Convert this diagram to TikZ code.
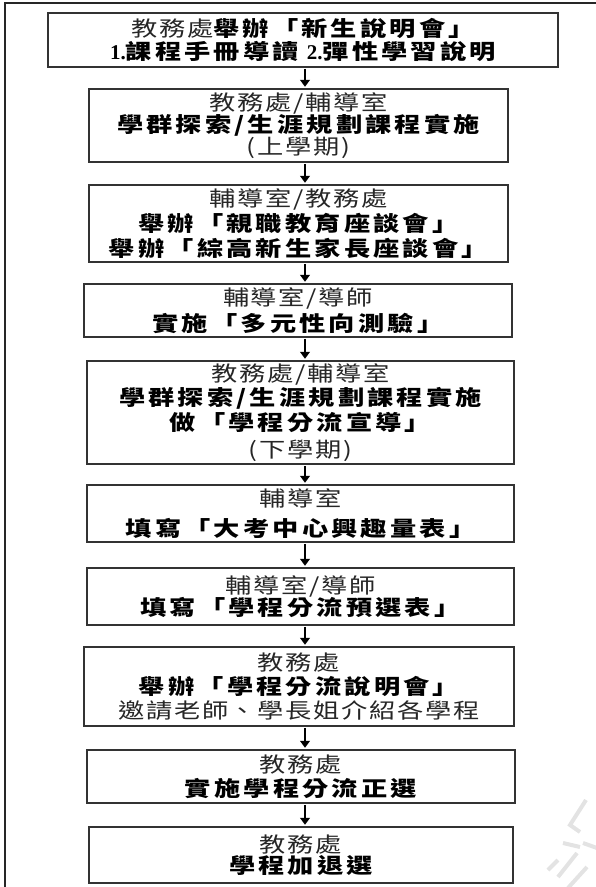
\documentclass[tikz,border=0pt]{standalone}
\usepackage{fontspec}
\usepackage{tikz}
\usetikzlibrary{arrows.meta}
\newfontfamily\cjk[FakeStretch=1.25,LetterSpace=8,BoldFeatures={LetterSpace=15}]{Noto Sans CJK TC}
\newfontfamily\numfont{Liberation Serif}
\newcommand{\who}[1]{{\color{black!85}#1}}
\newcommand{\what}[1]{{\bfseries #1}}

\begin{document}
\begin{tikzpicture}[x=1pt,y=-1pt,
  stepbox/.style={draw=black!80, line width=1.5pt, align=center, inner sep=0pt,
    font=\cjk\fontsize{21}{24}\selectfont},
  flow/.style={line width=1.2pt, -{Triangle[length=7pt,width=10pt]}, shorten >=1.5pt, shorten <=1pt}]
\useasboundingbox (0,0) rectangle (596,887);

% frame
\draw[line width=2pt, black!85] (5,887) -- (5,3) -- (596,3);

% boxes
\node[stepbox, minimum width=510, minimum height=54] (b1) at (303,40)
  {\who{教務處}\what{舉辦「新生說明會」}\\[-1pt]
   \what{{\numfont 1.}課程手冊導讀\hspace{8pt}{\numfont 2.}彈性學習說明}};
\node[stepbox, minimum width=419, minimum height=73] (b2) at (298.5,125.5)
  {\who{教務處/輔導室}\\[-2pt] \what{學群探索/生涯規劃課程實施}\\[-2pt] \who{(上學期)}};
\node[stepbox, minimum width=419, minimum height=77] (b3) at (298.5,223.5)
  {\who{輔導室/教務處}\\[1pt] \what{舉辦「親職教育座談會」}\\[1pt] \what{舉辦「綜高新生家長座談會」}};
\node[stepbox, minimum width=428, minimum height=53] (b4) at (298,310.5)
  {\who{輔導室/導師}\\[2pt] \what{實施「多元性向測驗」}};
\node[stepbox, minimum width=427, minimum height=103] (b5) at (300.5,412.5)
  {\who{教務處/輔導室}\\ \what{學群探索/生涯規劃課程實施}\\[1pt] \what{做「學程分流宣導」}\\[3pt] \who{(下學期)}};
\node[stepbox, minimum width=427, minimum height=57] (b6) at (300.5,513.5)
  {\who{輔導室}\\[6pt] \what{填寫「大考中心興趣量表」}};
\node[stepbox, minimum width=427, minimum height=57] (b7) at (300.5,596.5)
  {\who{輔導室/導師}\\[-2pt] \what{填寫「學程分流預選表」}};
\node[stepbox, minimum width=430, minimum height=79] (b8) at (299,686.5)
  {\who{教務處}\\ \what{舉辦「學程分流說明會」}\\ \who{邀請老師、學長姐介紹各學程}};
\node[stepbox, minimum width=428, minimum height=53] (b9) at (301,776.5)
  {\who{教務處}\\ \what{實施學程分流正選}};
\node[stepbox, minimum width=424, minimum height=56] (b10) at (301,855)
  {\who{教務處}\\[-3pt] \what{學程加退選}};

% arrows
\coordinate (spine) at (305,0);
\foreach \a/\b in {b1/b2,b2/b3,b3/b4,b4/b5,b5/b6,b6/b7,b7/b8,b8/b9,b9/b10}
  \draw[flow] (\a.south -| spine) -- (\b.north -| spine);

% watermark
\draw[gray!22, line width=4pt] (586,800) -- (570,825) -- (580,832)
  (563,843) -- (580,847) (583,843) -- (597,848)
  (548,870) -- (558,860) (558,877) -- (577,853) (568,888) -- (587,867);

\end{tikzpicture}
\end{document}
